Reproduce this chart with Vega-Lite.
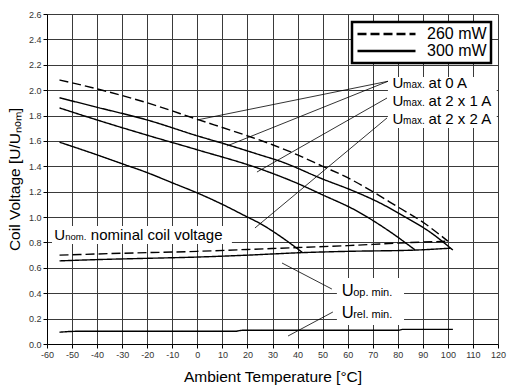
{
  "$schema": "https://vega.github.io/schema/vega-lite/v6.json",
  "width": 451,
  "height": 330,
  "autosize": {"type": "none"},
  "padding": {"left": 47, "top": 14, "right": 10, "bottom": 42},
  "background": "white",
  "config": {
    "view": {"stroke": null},
    "font": "Liberation Sans",
    "legend": {"strokeColor": "black", "strokeWidth": 2.5, "fillColor": "white"},
    "axis": {
      "grid": true,
      "gridColor": "#3a3a3a",
      "gridWidth": 1,
      "domainColor": "black",
      "domainWidth": 1,
      "tickColor": "black",
      "tickSize": 4,
      "labelFontSize": 9,
      "labelColor": "#333",
      "labelPadding": 2,
      "labelFlush": false,
      "labelOverlap": false,
      "titleFontSize": 15.5,
      "titleFontWeight": "normal",
      "titleColor": "black",
      "titleFont": "Liberation Sans"
    }
  },
  "datasets": {
    "curves": [
      {"s": "a0_260", "p": "260 mW", "t": -55, "v": 2.08},
      {"s": "a0_260", "p": "260 mW", "t": -40, "v": 2.01},
      {"s": "a0_260", "p": "260 mW", "t": -20, "v": 1.9},
      {"s": "a0_260", "p": "260 mW", "t": 0, "v": 1.77},
      {"s": "a0_260", "p": "260 mW", "t": 20, "v": 1.64},
      {"s": "a0_260", "p": "260 mW", "t": 30, "v": 1.57},
      {"s": "a0_260", "p": "260 mW", "t": 40, "v": 1.49},
      {"s": "a0_260", "p": "260 mW", "t": 50, "v": 1.4},
      {"s": "a0_260", "p": "260 mW", "t": 60, "v": 1.31},
      {"s": "a0_260", "p": "260 mW", "t": 70, "v": 1.2},
      {"s": "a0_260", "p": "260 mW", "t": 80, "v": 1.08},
      {"s": "a0_260", "p": "260 mW", "t": 90, "v": 0.96},
      {"s": "a0_260", "p": "260 mW", "t": 100, "v": 0.81},
      {"s": "a0_300", "p": "300 mW", "t": -55, "v": 1.94},
      {"s": "a0_300", "p": "300 mW", "t": -40, "v": 1.865},
      {"s": "a0_300", "p": "300 mW", "t": -20, "v": 1.765},
      {"s": "a0_300", "p": "300 mW", "t": 0, "v": 1.64},
      {"s": "a0_300", "p": "300 mW", "t": 12, "v": 1.57},
      {"s": "a0_300", "p": "300 mW", "t": 25, "v": 1.49},
      {"s": "a0_300", "p": "300 mW", "t": 33, "v": 1.44},
      {"s": "a0_300", "p": "300 mW", "t": 50, "v": 1.3},
      {"s": "a0_300", "p": "300 mW", "t": 63, "v": 1.2},
      {"s": "a0_300", "p": "300 mW", "t": 73, "v": 1.11},
      {"s": "a0_300", "p": "300 mW", "t": 83, "v": 1.0},
      {"s": "a0_300", "p": "300 mW", "t": 93, "v": 0.88},
      {"s": "a0_300", "p": "300 mW", "t": 102, "v": 0.74},
      {"s": "a1_300", "p": "300 mW", "t": -55, "v": 1.86},
      {"s": "a1_300", "p": "300 mW", "t": -40, "v": 1.765},
      {"s": "a1_300", "p": "300 mW", "t": -20, "v": 1.645},
      {"s": "a1_300", "p": "300 mW", "t": 0, "v": 1.53},
      {"s": "a1_300", "p": "300 mW", "t": 25, "v": 1.38},
      {"s": "a1_300", "p": "300 mW", "t": 40, "v": 1.265},
      {"s": "a1_300", "p": "300 mW", "t": 50, "v": 1.175},
      {"s": "a1_300", "p": "300 mW", "t": 63, "v": 1.055},
      {"s": "a1_300", "p": "300 mW", "t": 75, "v": 0.91},
      {"s": "a1_300", "p": "300 mW", "t": 87, "v": 0.74},
      {"s": "a2_300", "p": "300 mW", "t": -55, "v": 1.59},
      {"s": "a2_300", "p": "300 mW", "t": -40, "v": 1.49},
      {"s": "a2_300", "p": "300 mW", "t": -30, "v": 1.42},
      {"s": "a2_300", "p": "300 mW", "t": -20, "v": 1.35},
      {"s": "a2_300", "p": "300 mW", "t": -10, "v": 1.27},
      {"s": "a2_300", "p": "300 mW", "t": 0, "v": 1.19},
      {"s": "a2_300", "p": "300 mW", "t": 10, "v": 1.1},
      {"s": "a2_300", "p": "300 mW", "t": 20, "v": 1.0},
      {"s": "a2_300", "p": "300 mW", "t": 25, "v": 0.95},
      {"s": "a2_300", "p": "300 mW", "t": 33, "v": 0.85},
      {"s": "a2_300", "p": "300 mW", "t": 42, "v": 0.72},
      {"s": "op_260", "p": "260 mW", "t": -55, "v": 0.7},
      {"s": "op_260", "p": "260 mW", "t": -30, "v": 0.715},
      {"s": "op_260", "p": "260 mW", "t": 0, "v": 0.73},
      {"s": "op_260", "p": "260 mW", "t": 20, "v": 0.745},
      {"s": "op_260", "p": "260 mW", "t": 40, "v": 0.76},
      {"s": "op_260", "p": "260 mW", "t": 60, "v": 0.775},
      {"s": "op_260", "p": "260 mW", "t": 80, "v": 0.795},
      {"s": "op_260", "p": "260 mW", "t": 100, "v": 0.81},
      {"s": "op_300", "p": "300 mW", "t": -55, "v": 0.655},
      {"s": "op_300", "p": "300 mW", "t": -40, "v": 0.665},
      {"s": "op_300", "p": "300 mW", "t": -20, "v": 0.675},
      {"s": "op_300", "p": "300 mW", "t": 0, "v": 0.685},
      {"s": "op_300", "p": "300 mW", "t": 20, "v": 0.7},
      {"s": "op_300", "p": "300 mW", "t": 42, "v": 0.72},
      {"s": "op_300", "p": "300 mW", "t": 60, "v": 0.73},
      {"s": "op_300", "p": "300 mW", "t": 87, "v": 0.74},
      {"s": "op_300", "p": "300 mW", "t": 101, "v": 0.755},
      {"s": "rel_300", "p": "300 mW", "t": -55, "v": 0.093},
      {"s": "rel_300", "p": "300 mW", "t": -48, "v": 0.1},
      {"s": "rel_300", "p": "300 mW", "t": 15, "v": 0.1},
      {"s": "rel_300", "p": "300 mW", "t": 18, "v": 0.108},
      {"s": "rel_300", "p": "300 mW", "t": 80, "v": 0.108},
      {"s": "rel_300", "p": "300 mW", "t": 82, "v": 0.115},
      {"s": "rel_300", "p": "300 mW", "t": 102, "v": 0.115}
    ],
    "leaders": [
      {"t": 76.1, "v": 2.07, "t2": -0.1, "v2": 1.765},
      {"t": 76.1, "v": 2.07, "t2": 11.8, "v2": 1.56},
      {"t": 75.7, "v": 1.938, "t2": 23.8, "v2": 1.355},
      {"t": 75.7, "v": 1.781, "t2": 23.0, "v2": 0.914},
      {"t": 33.8, "v": 0.638, "t2": 53.7, "v2": 0.433},
      {"t": 36.2, "v": 0.063, "t2": 54.1, "v2": 0.252}
    ],
    "boxes": [
      {"t": 76.07, "v": 2.104, "t2": 119.5, "v2": 1.702},
      {"t": -58.0, "v": 0.93, "t2": 13.8, "v2": 0.788},
      {"t": 55.7, "v": 0.52, "t2": 82.5, "v2": 0.15}
    ],
    "topLabels": [
      {"t": 77.94, "v": 2.02, "u": "U", "sub": "max.", "rest": "at 0 A"},
      {"t": 77.94, "v": 1.875, "u": "U", "sub": "max.", "rest": "at 2 x 1 A"},
      {"t": 77.94, "v": 1.731, "u": "U", "sub": "max.", "rest": "at 2 x 2 A"}
    ],
    "nomLabel": [
      {"t": -57.09, "v": 0.8195, "u": "U", "sub": "nom.", "rest": "nominal coil voltage"}
    ],
    "minLabels": [
      {"t": 57.6, "v": 0.378, "u": "U", "sub": "op. min."},
      {"t": 57.6, "v": 0.2025, "u": "U", "sub": "rel. min."}
    ]
  },
  "encoding": {
    "x": {"field": "t", "type": "quantitative", "scale": {"domain": [-60, 120], "nice": false, "zero": false},
      "axis": {"title": "Ambient Temperature [°C]", "values": [-60,-50,-40,-30,-20,-10,0,10,20,30,40,50,60,70,80,90,100,110,120],
        "labelExpr": "datum.value < 0 ? '-' + format(-datum.value, 'd') : format(datum.value, 'd')", "titlePadding": 10}},
    "y": {"field": "v", "type": "quantitative", "scale": {"domain": [0, 2.6], "nice": false, "zero": false},
      "axis": {"title": "Coil Voltage [U/Uₙₒₘ]", "values": [0,0.2,0.4,0.6,0.8,1.0,1.2,1.4,1.6,1.8,2.0,2.2,2.4,2.6], "format": ".1f", "titlePadding": 6}}
  },
  "layer": [
    {
      "data": {"name": "boxes"},
      "mark": {"type": "rect", "fill": "white", "stroke": null},
      "encoding": {
        "x2": {"field": "t2"},
        "y2": {"field": "v2"}
      }
    },
    {
      "data": {"name": "curves"},
      "mark": {"type": "line", "color": "black", "strokeWidth": 1.4, "interpolate": "monotone"},
      "encoding": {
        "detail": {"field": "s"},
        "strokeDash": {
          "field": "p", "type": "nominal",
          "scale": {"domain": ["260 mW", "300 mW"], "range": [[9, 4], [1, 0]]},
          "legend": {
            "title": null, "orient": "none", "legendX": 305, "legendY": 8,
            "padding": 4, "rowPadding": 1, "labelFontSize": 16, "labelColor": "black",
            "symbolType": "stroke", "symbolSize": 3364, "symbolStrokeWidth": 2.5,
            "symbolStrokeColor": "black", "labelOffset": 10, "clipHeight": 16
          }
        }
      }
    },
    {
      "data": {"name": "leaders"},
      "mark": {"type": "rule", "color": "black", "strokeWidth": 0.8},
      "encoding": {
        "x2": {"field": "t2"},
        "y2": {"field": "v2"}
      }
    },
    {
      "data": {"name": "topLabels"},
      "mark": {"type": "text", "align": "left", "baseline": "alphabetic", "fontSize": 15, "color": "black"},
      "encoding": {"text": {"field": "u"}}
    },
    {
      "data": {"name": "topLabels"},
      "mark": {"type": "text", "align": "left", "baseline": "alphabetic", "fontSize": 10, "dx": 10.5, "color": "black"},
      "encoding": {"text": {"field": "sub"}}
    },
    {
      "data": {"name": "topLabels"},
      "mark": {"type": "text", "align": "left", "baseline": "alphabetic", "fontSize": 15, "dx": 36, "color": "black"},
      "encoding": {"text": {"field": "rest"}}
    },
    {
      "data": {"name": "nomLabel"},
      "mark": {"type": "text", "align": "left", "baseline": "alphabetic", "fontSize": 15, "color": "black"},
      "encoding": {"text": {"field": "u"}}
    },
    {
      "data": {"name": "nomLabel"},
      "mark": {"type": "text", "align": "left", "baseline": "alphabetic", "fontSize": 9.5, "dx": 11, "color": "black"},
      "encoding": {"text": {"field": "sub"}}
    },
    {
      "data": {"name": "nomLabel"},
      "mark": {"type": "text", "align": "left", "baseline": "alphabetic", "fontSize": 15, "dx": 36.5, "color": "black"},
      "encoding": {"text": {"field": "rest"}}
    },
    {
      "data": {"name": "minLabels"},
      "mark": {"type": "text", "align": "left", "baseline": "alphabetic", "fontSize": 16.5, "color": "black"},
      "encoding": {"text": {"field": "u"}}
    },
    {
      "data": {"name": "minLabels"},
      "mark": {"type": "text", "align": "left", "baseline": "alphabetic", "fontSize": 11, "dx": 11.5, "color": "black"},
      "encoding": {"text": {"field": "sub"}}
    }
  ]
}
